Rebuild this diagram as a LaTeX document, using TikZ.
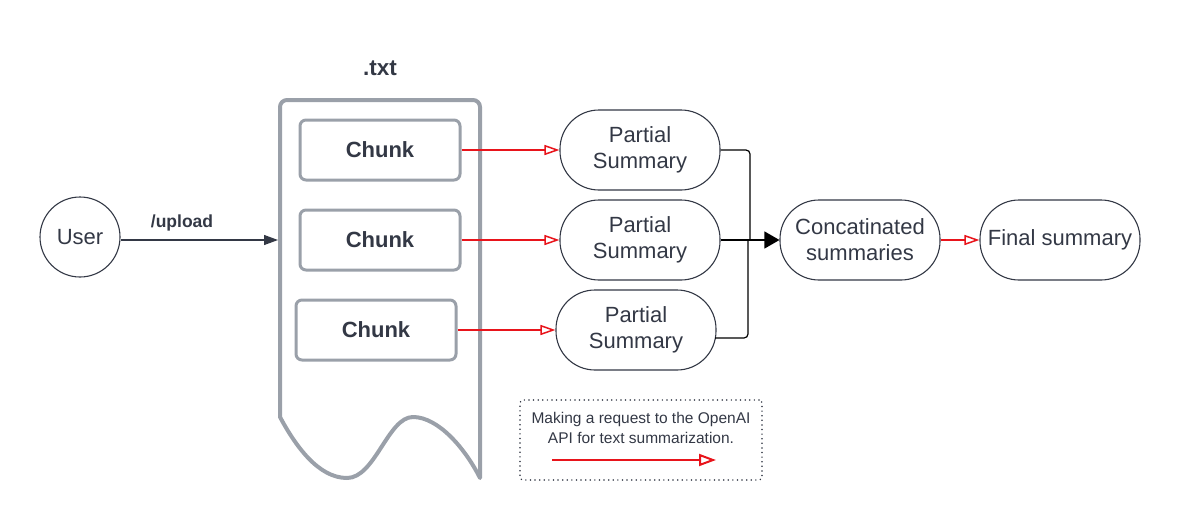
\documentclass[tikz,border=0pt]{standalone}
\usepackage{fontspec}
\setmainfont{Liberation Sans}
\usetikzlibrary{arrows.meta}
\definecolor{ink}{HTML}{333845}
\definecolor{docgray}{HTML}{9AA0A9}
\definecolor{reqred}{HTML}{E8141B}

\begin{document}
\begin{tikzpicture}[x=1pt, y=-1pt, ink, font=\fontsize{22}{26}\selectfont,
    round/.style={draw=ink, line width=1.1pt, circle, minimum size=80pt, inner sep=0pt},
    stadium/.style={draw=ink, line width=1.1pt, rounded corners=39pt, minimum width=160pt, minimum height=80pt, align=center},
    chunk/.style={draw=docgray, line width=3pt, rounded corners=6pt, minimum width=160pt, minimum height=60pt, font=\fontsize{22}{26}\selectfont\bfseries},
    request/.style={draw=reqred, line width=1.5pt, -{Triangle[open, length=15pt, width=10pt]}},
    merge/.style={draw=black, line width=1.2pt, rounded corners=4pt}]
    \useasboundingbox (0,0) rectangle (1180,522);
    % user and upload
    \node [round] (user) at (80,237) {User};
    \coordinate (docin) at (278,240);
    \draw [line width=1.1pt, -{Triangle[length=14pt, width=10pt]}] (user.east |- docin) -- (docin);
    \node [font=\fontsize{17.5}{20}\selectfont\bfseries] (upload) at (182,223) {/upload};
    % the .txt document
    \node [font=\fontsize{22.5}{26}\selectfont\bfseries] (txt) at (380,68) {.txt};
    \draw [docgray, line width=4pt, line join=round] (280,417) [rounded corners=7pt] -- (280,100) -- (480,100) [sharp corners] -- (480,478)
      .. controls (465,448) and (438,417) .. (413,417)
      .. controls (388,417) and (375,478) .. (347,478)
      .. controls (318,478) and (295,445) .. (280,417) -- cycle;
    \node [chunk] (c1) at (380,150) {Chunk};
    \node [chunk] (c2) at (380,240) {Chunk};
    \node [chunk] (c3) at (376,330) {Chunk};
    % partial summaries
    \node [stadium] (ps1) at (640,150) {Partial\\Summary};
    \node [stadium] (ps2) at (640,240) {Partial\\Summary};
    \node [stadium] (ps3) at (636,330) {Partial\\Summary};
    \draw [request] (c1.east) -- (ps1.west);
    \draw [request] (c2.east) -- (ps2.west);
    \draw [request] (c3.east) -- (ps3.west);
    % merge into one text
    \node [stadium] (cc) at (860,240) {Concatinated\\summaries};
    \node [stadium] (final) at (1060,240) {Final summary};
    \coordinate (joinA) at (750,240);
    \coordinate (joinB) at (748,240);
    \coordinate (ps3out) at (715,338);
    \draw [merge] (ps1.east) -| (joinA);
    \draw [merge] (ps3out) -| (joinB);
    \draw [merge, -{Triangle[length=15pt, width=17pt]}] (ps2.east) -- (cc.west);
    \draw [request] (cc.east) -- (final.west);
    % legend
    \node [draw=ink, line width=1.6pt, dash pattern=on 0.1pt off 4.5pt, line cap=round, rounded corners=3pt,
      minimum width=242pt, minimum height=80pt] (legend) at (641,440) {};
    \node [align=center, font=\fontsize{15.5}{20}\selectfont] (legendtxt) at (641,428) {Making a request to the OpenAI\\API for text summarization.};
    \coordinate (legA) at (552,460);
    \coordinate (legB) at (716,460);
    \draw [request, line width=2pt, -{Triangle[open, length=17pt, width=12pt]}] (legA) -- (legB);
\end{tikzpicture}
\end{document}
